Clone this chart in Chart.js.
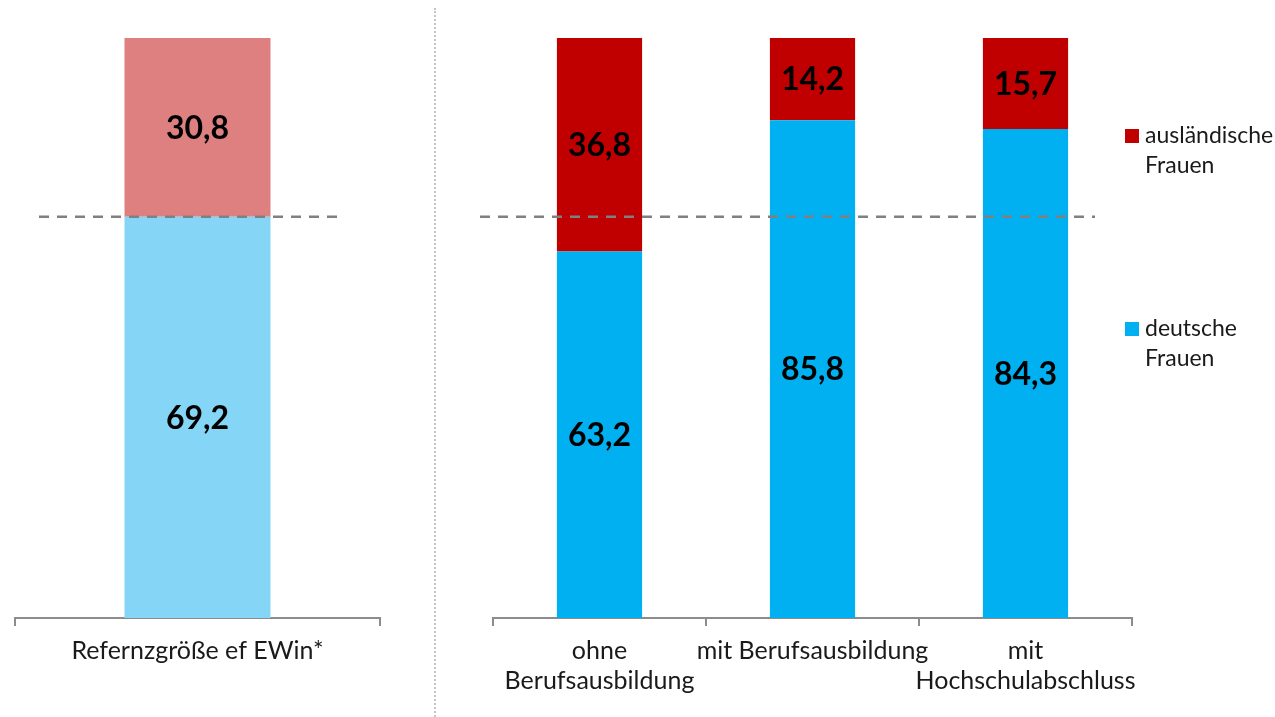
<!DOCTYPE html>
<html>
<head>
<meta charset="utf-8">
<script src="https://cdn.jsdelivr.net/npm/chart.js@4.4.1/dist/chart.umd.min.js"></script>
<style>
  html, body { margin: 0; padding: 0; background: #fff; }
  #wrap { position: relative; width: 1275px; height: 717px; overflow: hidden; }
  #leftBox { position: absolute; left: 0; top: 0; width: 435px; height: 717px; }
  #rightBox { position: absolute; left: 435px; top: 0; width: 840px; height: 717px; }
  #sep { position: absolute; left: 434px; top: 8px; height: 709px; border-left: 2px dotted #c4c4c4; }
</style>
</head>
<body>
<div id="wrap">
  <div id="leftBox"><canvas id="leftChart"></canvas></div>
  <div id="sep"></div>
  <div id="rightBox"><canvas id="rightChart"></canvas></div>
</div>
<script>
// data
const refLabels = [['Refernzgröße ef EWin*']];
const refDeutsche = [69.2];
const refAuslaendische = [30.8];

const eduLabels = [['ohne', 'Berufsausbildung'], ['mit Berufsausbildung'], ['mit', 'Hochschulabschluss']];
const eduDeutsche = [63.2, 85.8, 84.3];
const eduAuslaendische = [36.8, 14.2, 15.7];

const seriesNames = ['deutsche Frauen', 'ausländische Frauen'];
const referenceLine = 69.2;

const FONT = 'Lato, "Open Sans", sans-serif';

// value labels inside bars
const valueLabels = {
    id: 'valueLabels',
    afterDatasetsDraw(chart) {
        const ctx = chart.ctx;
        ctx.save();
        ctx.font = 'bold 32px ' + FONT;
        ctx.fillStyle = '#000000';
        ctx.textAlign = 'center';
        ctx.textBaseline = 'middle';
        chart.data.datasets.forEach((ds, i) => {
            chart.getDatasetMeta(i).data.forEach((bar, j) => {
                const txt = ds.data[j].toFixed(1).replace('.', ',');
                ctx.fillText(txt, bar.x, (bar.y + bar.base) / 2 + 1);
            });
        });
        ctx.restore();
    }
};

// dashed reference line
const refLine = {
    id: 'refLine',
    afterDatasetsDraw(chart, args, opts) {
        const ctx = chart.ctx;
        const y = chart.scales.y.getPixelForValue(opts.value);
        const a = chart.chartArea;
        ctx.save();
        ctx.strokeStyle = '#808080';
        ctx.lineWidth = 2.5;
        ctx.setLineDash([10, 8]);
        ctx.beginPath();
        ctx.moveTo(a.left + opts.insetLeft, y);
        ctx.lineTo(a.right - opts.insetRight, y);
        ctx.stroke();
        ctx.restore();
    }
};

// two-line legend on the right side
const sideLegend = {
    id: 'sideLegend',
    afterDraw(chart, args, opts) {
        if (!opts.display) return;
        const ctx = chart.ctx;
        const a = chart.chartArea;
        const items = [
            { ds: 1, lines: ['ausländische', 'Frauen'], y: a.top + 98 },
            { ds: 0, lines: ['deutsche', 'Frauen'], y: a.top + 291 }
        ];
        ctx.save();
        ctx.font = '23px ' + FONT;
        ctx.textBaseline = 'middle';
        ctx.textAlign = 'left';
        items.forEach(it => {
            ctx.fillStyle = chart.data.datasets[it.ds].backgroundColor;
            ctx.fillRect(a.right - 7, it.y - 7, 14, 14);
            ctx.fillStyle = '#1a1a1a';
            it.lines.forEach((l, k) => ctx.fillText(l, a.right + 13, it.y + k * 30));
        });
        ctx.restore();
    }
};

function makeChart(id, labels, deutsche, auslaendische, colors, opts) {
    return new Chart(document.getElementById(id), {
        type: 'bar',
        data: {
            labels: labels,
            datasets: [
                { label: seriesNames[0], data: deutsche, backgroundColor: colors[0] },
                { label: seriesNames[1], data: auslaendische, backgroundColor: colors[1] }
            ]
        },
        options: {
            responsive: true,
            maintainAspectRatio: false,
            animation: false,
            categoryPercentage: 1,
            barPercentage: 0.4,
            layout: { padding: { left: opts.padLeft, right: opts.padRight, top: 38, bottom: 0 } },
            plugins: {
                legend: { display: false },
                tooltip: { enabled: false },
                refLine: { value: referenceLine, insetLeft: opts.insetLeft, insetRight: 37 },
                sideLegend: { display: opts.legend }
            },
            scales: {
                x: {
                    stacked: true,
                    afterFit: axis => { axis.height = 99; },
                    grid: {
                        display: true,
                        offset: true,
                        drawOnChartArea: false,
                        drawTicks: true,
                        tickLength: 8,
                        color: '#8c8c8c',
                        lineWidth: 2
                    },
                    border: { display: true, color: '#8c8c8c', width: 2 },
                    ticks: {
                        font: { family: FONT, size: 25, lineHeight: 1.2 },
                        color: '#1a1a1a',
                        padding: 10,
                        maxRotation: 0,
                        autoSkip: false
                    }
                },
                y: {
                    stacked: true,
                    display: false,
                    min: 0,
                    max: 100
                }
            }
        },
        plugins: [valueLabels, refLine, sideLegend]
    });
}

makeChart('leftChart', refLabels, refDeutsche, refAuslaendische, ['#84D5F6', '#DE8080'],
    { padLeft: 15, padRight: 55, insetLeft: 24, legend: false });
makeChart('rightChart', eduLabels, eduDeutsche, eduAuslaendische, ['#00B0F0', '#C00000'],
    { padLeft: 58, padRight: 143, insetLeft: -13, legend: true });
</script>
</body>
</html>
